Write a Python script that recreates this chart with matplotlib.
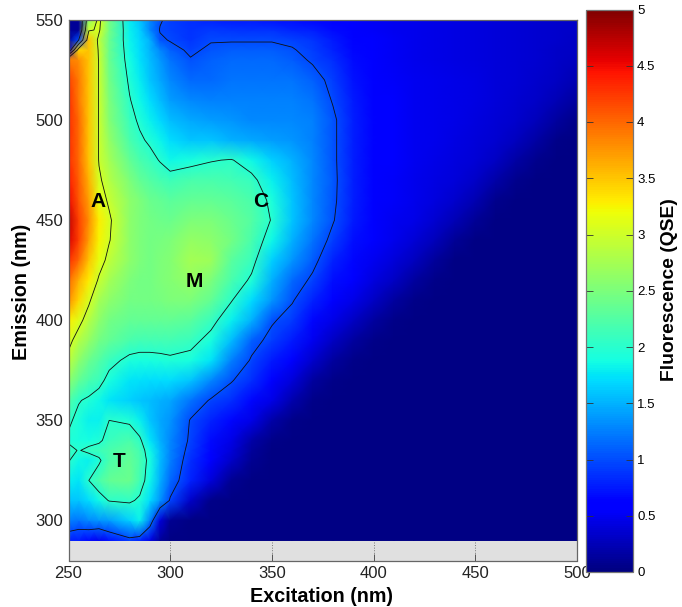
#!/usr/bin/env python
"""Excitation-emission fluorescence map (QSE) with the A, C, M and T peaks."""
import numpy as np
import matplotlib
matplotlib.use("Agg")
import matplotlib.pyplot as plt

plt.rcParams["font.family"] = ["Liberation Sans", "DejaVu Sans"]

W, H = 682, 607

excitation = [250, 255, 260, 265, 270, 280, 285, 290, 295, 300,
              310, 320, 330, 340, 350, 360, 370,
              380, 390, 400, 410, 420, 430, 440, 450, 460, 470, 480, 490, 500]
emission = [290, 300, 310, 320, 330, 335, 340, 350, 360, 370, 380, 390, 400, 410, 420,
            430, 440, 450, 460, 470, 480, 490, 500, 510, 520, 530, 535, 540, 545, 550]

# fluorescence, one row per emission wavelength
em290 = [.80, .75, .65, .50, .70, .90, .80, .45, .12, .03, .02, .02, .02, .02, .02, .02, .02,
         .02, .02, .02, .02, .02, .02, .02, .02, .02, .02, .02, .02, .02]
em300 = [1.25, 1.20, 1.30, 1.35, 1.40, 1.65, 1.80, 1.25, .40, .08, .02, .02, .02, .02, .02, .02, .02,
         .02, .02, .02, .02, .02, .02, .02, .02, .02, .02, .02, .02, .02]
em310 = [1.60, 1.60, 1.70, 1.85, 2.02, 2.05, 1.95, 1.70, 1.35, .97, .32, .04, .02, .02, .02, .02, .02,
         .02, .02, .02, .02, .02, .02, .02, .02, .02, .02, .02, .02, .02]
em320 = [1.80, 1.75, 2.00, 2.20, 2.35, 2.40, 2.15, 1.85, 1.50, 1.15, .80, .40, .08, .02, .02, .02, .02,
         .02, .02, .02, .02, .02, .02, .02, .02, .02, .02, .02, .02, .02]
em330 = [2.02, 1.85, 1.80, 1.95, 2.20, 2.35, 2.20, 1.90, 1.55, 1.25, .85, .60, .32, .08, .02, .02, .02,
         .02, .02, .02, .02, .02, .02, .02, .02, .02, .02, .02, .02, .02]
em335 = [2.10, 1.98, 2.08, 2.12, 2.20, 2.30, 2.15, 1.85, 1.55, 1.28, .90, .65, .40, .12, .03, .02, .02,
         .02, .02, .02, .02, .02, .02, .02, .02, .02, .02, .02, .02, .02]
em340 = [1.95, 1.90, 1.88, 1.95, 2.10, 2.20, 2.05, 1.75, 1.50, 1.30, .95, .68, .45, .18, .05, .02, .02,
         .02, .02, .02, .02, .02, .02, .02, .02, .02, .02, .02, .02, .02]
em350 = [2.05, 1.92, 1.80, 1.80, 2.00, 1.95, 1.80, 1.60, 1.45, 1.35, .98, .80, .65, .45, .18, .04, .02,
         .02, .02, .02, .02, .02, .02, .02, .02, .02, .02, .02, .02, .02]
em360 = [2.25, 2.02, 1.95, 1.85, 1.75, 1.65, 1.60, 1.55, 1.50, 1.45, 1.20, .97, .85, .65, .45, .20, .04,
         .02, .02, .02, .02, .02, .02, .02, .02, .02, .02, .02, .02, .02]
em370 = [2.60, 2.35, 2.20, 2.10, 1.90, 1.75, 1.72, 1.70, 1.70, 1.70, 1.60, 1.30, 1.02, .85, .62, .40, .15,
         .04, .02, .02, .02, .02, .02, .02, .02, .02, .02, .02, .02, .02]
em380 = [2.90, 2.60, 2.40, 2.25, 2.10, 1.92, 1.90, 1.90, 1.92, 1.95, 1.90, 1.75, 1.25, .97, .75, .55, .35,
         .14, .04, .02, .02, .02, .02, .02, .02, .02, .02, .02, .02, .02]
em390 = [3.10, 2.85, 2.65, 2.45, 2.35, 2.20, 2.15, 2.15, 2.15, 2.15, 2.10, 1.90, 1.55, 1.10, .92, .75, .50,
         .30, .14, .04, .02, .02, .02, .02, .02, .02, .02, .02, .02, .02]
em400 = [3.30, 3.10, 2.85, 2.60, 2.45, 2.35, 2.35, 2.35, 2.35, 2.35, 2.30, 2.10, 1.80, 1.50, 1.03, .90, .65,
         .45, .30, .14, .04, .02, .02, .02, .02, .02, .02, .02, .02, .02]
em410 = [3.80, 3.40, 3.05, 2.75, 2.60, 2.45, 2.45, 2.45, 2.48, 2.50, 2.50, 2.35, 2.02, 1.70, 1.35, 1.02, .80,
         .60, .45, .30, .14, .04, .02, .02, .02, .02, .02, .02, .02, .02]
em420 = [4.00, 3.60, 3.30, 2.95, 2.75, 2.50, 2.45, 2.45, 2.50, 2.55, 2.65, 2.50, 2.20, 1.95, 1.50, 1.15, .95,
         .70, .58, .42, .30, .14, .04, .02, .02, .02, .02, .02, .02, .02]
em430 = [4.30, 4.00, 3.50, 3.15, 2.90, 2.60, 2.50, 2.45, 2.50, 2.55, 2.75, 2.70, 2.30, 2.10, 1.65, 1.35, 1.08,
         .80, .65, .50, .40, .28, .12, .03, .02, .02, .02, .02, .02, .02]
em440 = [4.60, 4.20, 3.70, 3.25, 3.02, 2.60, 2.50, 2.45, 2.48, 2.50, 2.65, 2.60, 2.45, 2.20, 1.85, 1.50, 1.20,
         .92, .70, .55, .47, .38, .26, .11, .03, .02, .02, .02, .02, .02]
em450 = [4.70, 4.20, 3.80, 3.30, 3.05, 2.60, 2.50, 2.45, 2.42, 2.40, 2.50, 2.50, 2.40, 2.25, 1.98, 1.60, 1.30,
         1.02, .75, .58, .50, .45, .36, .24, .10, .02, .02, .02, .02, .02]
em460 = [4.50, 4.10, 3.70, 3.15, 2.95, 2.60, 2.50, 2.40, 2.35, 2.30, 2.35, 2.35, 2.30, 2.20, 1.93, 1.60, 1.30,
         1.05, .78, .60, .53, .47, .42, .34, .22, .07, .02, .02, .02, .02]
em470 = [4.40, 4.05, 3.60, 3.05, 2.85, 2.50, 2.35, 2.25, 2.18, 2.12, 2.20, 2.20, 2.15, 2.08, 1.80, 1.55, 1.30,
         1.06, .78, .62, .54, .48, .44, .40, .32, .18, .06, .02, .02, .02]
em480 = [4.30, 4.00, 3.50, 2.98, 2.75, 2.35, 2.20, 2.10, 1.98, 1.85, 1.90, 1.98, 2.02, 1.85, 1.65, 1.50, 1.30,
         1.05, .78, .62, .55, .50, .46, .42, .38, .30, .17, .06, .02, .02]
em490 = [4.30, 4.00, 3.50, 2.97, 2.65, 2.20, 2.05, 1.95, 1.82, 1.70, 1.60, 1.60, 1.50, 1.45, 1.40, 1.35, 1.25,
         1.05, .78, .63, .55, .50, .47, .44, .41, .36, .28, .16, .05, .03]
em500 = [4.30, 4.00, 3.50, 2.97, 2.55, 2.10, 1.95, 1.80, 1.68, 1.55, 1.45, 1.40, 1.35, 1.30, 1.30, 1.30, 1.25,
         1.05, .78, .63, .55, .50, .47, .45, .42, .39, .34, .26, .15, .05]
em510 = [4.30, 3.90, 3.50, 2.97, 2.50, 2.02, 1.85, 1.70, 1.55, 1.40, 1.30, 1.25, 1.25, 1.25, 1.25, 1.25, 1.20,
         .98, .75, .62, .55, .50, .47, .45, .43, .41, .37, .32, .24, .14]
em520 = [4.20, 3.90, 3.50, 2.97, 2.45, 1.95, 1.78, 1.60, 1.45, 1.30, 1.15, 1.15, 1.20, 1.20, 1.20, 1.20, 1.10,
         .93, .72, .60, .53, .50, .47, .45, .43, .41, .39, .35, .30, .22]
em530 = [3.90, 3.80, 3.50, 2.97, 2.40, 1.88, 1.72, 1.55, 1.38, 1.20, 1.02, 1.10, 1.15, 1.15, 1.15, 1.08, .97,
         .85, .68, .58, .52, .48, .46, .44, .42, .40, .38, .36, .33, .28]
em535 = [.30, 3.40, 3.50, 2.95, 2.40, 1.85, 1.70, 1.52, 1.30, 1.10, .95, 1.05, 1.08, 1.08, 1.08, 1.02, .92,
         .80, .66, .57, .52, .48, .46, .44, .42, .40, .38, .36, .33, .30]
em540 = [.10, 1.00, 3.50, 2.90, 2.40, 1.82, 1.68, 1.50, 1.05, .98, .88, .98, .98, .98, .98, .95, .88,
         .75, .63, .55, .51, .48, .46, .44, .42, .40, .38, .36, .34, .31]
em545 = [.10, .10, 2.95, 3.05, 2.45, 1.80, 1.65, 1.30, .98, .94, .86, .90, .88, .86, .86, .82, .78,
         .68, .60, .54, .50, .48, .46, .44, .42, .40, .38, .36, .34, .32]
em550 = [.10, .10, 2.60, 3.10, 2.45, 1.78, 1.60, 1.30, 1.03, .92, .85, .80, .75, .75, .72, .70, .65,
         .60, .56, .52, .49, .47, .45, .43, .42, .40, .38, .36, .34, .32]

qse = np.array([em290, em300, em310, em320, em330, em335, em340, em350, em360, em370,
                em380, em390, em400, em410, em420, em430, em440, em450, em460, em470,
                em480, em490, em500, em510, em520, em530, em535, em540, em545, em550])

contour_levels = [1, 2, 3]
peaks = {"A": (264.5, 459.5), "C": (344.6, 459.5), "M": (311.7, 419.5), "T": (275, 329.5)}

fig = plt.figure(figsize=(W / 100, H / 100), dpi=100)
ax = fig.add_axes([68.5 / W, 1 - 560.5 / H, 508.5 / W, 540.5 / H])
cax = fig.add_axes([586 / W, 1 - 572 / H, 47 / W, 562.5 / H])

ax.set_facecolor("#e0e0e0")
ax.set_axisbelow(True)
mesh = ax.pcolormesh(excitation, emission, qse, cmap="jet", vmin=0, vmax=5,
                     shading="gouraud", zorder=2)
ax.contour(excitation, emission, qse, levels=contour_levels, colors="#101010",
           linewidths=0.6, zorder=3)
for name, (x, y) in peaks.items():
    ax.text(x, y, name, fontsize=15, fontweight="bold", ha="center", va="center", zorder=4)

ax.set_xlim(250, 500)
ax.set_ylim(280, 550)
ax.set_xticks(range(250, 501, 50))
ax.set_yticks(range(300, 551, 50))
ax.tick_params(direction="in", length=5, width=0.7, color="#555555", labelsize=12,
               labelcolor="#222222", pad=4)
ax.grid(True, linestyle=":", linewidth=0.7, color="#777777")
for s in ax.spines.values():
    s.set_color("#666666")
    s.set_linewidth(0.9)
    s.set_zorder(5)

fig.text(321 / W, 1 - 596 / H, "Excitation (nm)", fontsize=14.2, fontweight="bold",
         ha="center", va="center")
fig.text(22 / W, 1 - 292 / H, "Emission (nm)", fontsize=14.2, fontweight="bold",
         rotation=90, ha="center", va="center")

cb = fig.colorbar(mesh, cax=cax)
cb.set_ticks(np.arange(0, 5.01, 0.5))
cb.set_ticklabels(["0", "0.5", "1", "1.5", "2", "2.5", "3", "3.5", "4", "4.5", "5"])
cax.tick_params(direction="in", length=5, width=0.6, color="#333333", labelsize=9.5,
                left=True, right=True, pad=3)
cb.outline.set_edgecolor("#777777")
cb.outline.set_linewidth(0.9)
fig.text(669 / W, 1 - 290 / H, "Fluorescence (QSE)", fontsize=13.9, fontweight="bold",
         rotation=90, ha="center", va="center")

fig.savefig("out.png", dpi=100)
